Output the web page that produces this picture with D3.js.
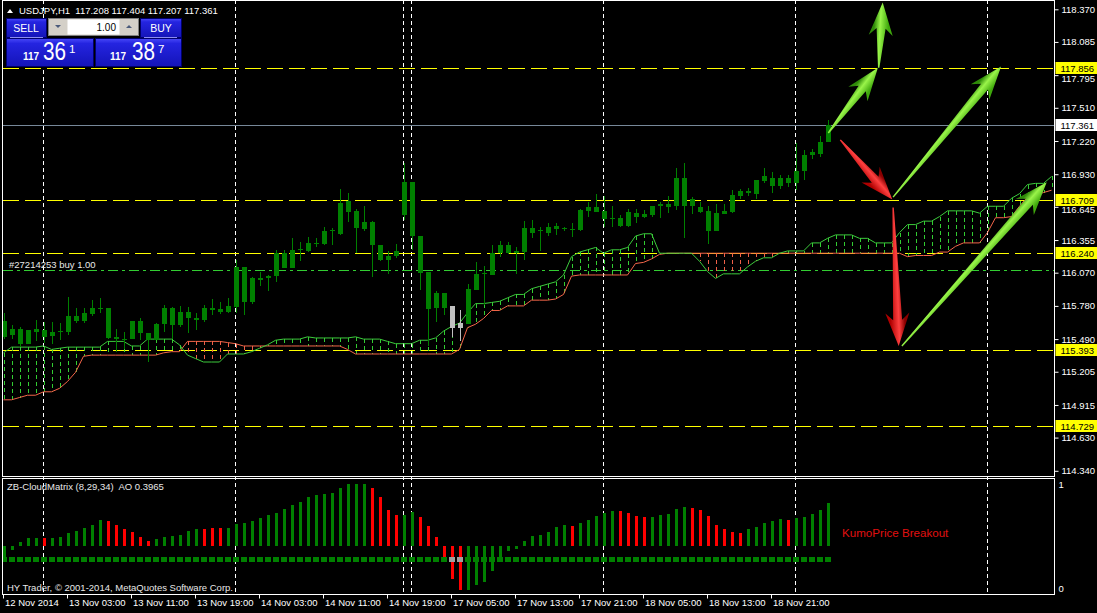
<!DOCTYPE html>
<html><head><meta charset="utf-8">
<script src="https://cdn.jsdelivr.net/npm/d3@7"></script>
<style>
html,body{margin:0;padding:0;background:#000;overflow:hidden;}
svg{display:block;}
text{font-family:"Liberation Sans",Arial,sans-serif;white-space:pre;}
</style></head><body>
<svg id="c" width="1097" height="613"></svg>
<script>
// ---------------- DATA ----------------
const symbolLabel = "USDJPY,H1";
const headerOHLC = [117.208, 117.404, 117.207, 117.361];
const open = [115.65,115.58,115.45,115.45,115.55,115.57,115.52,115.55,115.55,115.65,
 115.65,115.71,115.76,115.76,115.51,115.48,115.49,115.65,115.54,115.48,
 115.62,115.76,115.61,115.73,115.66,115.66,115.74,115.75,115.73,115.77,
 116.12,115.81,116.02,116.02,116.04,116.24,116.11,116.27,116.26,116.32,
 116.32,116.43,116.41,116.70,116.61,116.51,116.51,116.31,116.18,116.22,
 116.57,116.86,116.39,116.08,115.76,115.89,115.78,115.59,115.62,115.92,
 116.06,116.05,116.24,116.31,116.24,116.25,116.46,116.43,116.42,116.48,
 116.45,116.445,116.44,116.61,116.64,116.61,116.54,116.55,116.48,116.59,
 116.56,116.57,116.65,116.67,116.65,116.90,116.65,116.64,116.61,116.43,
 116.58,116.60,116.74,116.77,116.76,116.87,116.90,116.83,116.90,116.85,
 116.96,117.10,117.11,117.208];
const high = [115.72,115.61,115.60,115.57,115.66,115.64,115.64,115.63,115.86,115.76,
 115.76,115.83,115.85,115.76,115.58,115.55,115.65,115.67,115.54,115.63,
 115.79,115.77,115.78,115.77,115.72,115.79,115.84,115.81,115.85,116.18,
 116.12,116.03,116.08,116.05,116.27,116.27,116.37,116.34,116.38,116.37,
 116.47,116.46,116.80,116.77,116.63,116.65,116.52,116.31,116.26,116.32,
 117.03,116.86,116.39,116.08,115.91,115.89,115.78,115.74,115.97,116.16,
 116.13,116.31,116.35,116.34,116.29,116.52,116.53,116.47,116.50,116.50,
 116.47,116.50,116.63,116.69,116.76,116.74,116.65,116.57,116.63,116.63,
 116.62,116.65,116.69,116.74,116.98,117.03,116.73,116.69,116.65,116.67,
 116.67,116.79,116.80,116.81,116.88,116.98,116.95,116.92,116.92,117.20,
 117.14,117.15,117.26,117.404];
const low = [115.49,115.49,115.42,115.45,115.47,115.46,115.45,115.48,115.53,115.63,
 115.63,115.69,115.72,115.49,115.38,115.40,115.49,115.48,115.29,115.48,
 115.55,115.49,115.60,115.54,115.57,115.64,115.70,115.71,115.72,115.72,
 115.70,115.80,115.95,115.91,115.99,116.11,116.11,116.17,116.25,116.29,
 116.31,116.31,116.40,116.51,116.24,116.43,116.03,116.17,116.06,116.20,
 116.53,116.27,115.92,115.43,115.64,115.70,115.51,115.47,115.62,115.92,
 115.79,116.05,116.21,116.23,116.06,116.18,116.37,116.26,116.39,116.40,
 116.43,116.38,116.43,116.56,116.60,116.47,116.47,116.47,116.47,116.50,
 116.55,116.56,116.55,116.59,116.62,116.37,116.58,116.59,116.32,116.43,
 116.58,116.59,116.71,116.74,116.71,116.85,116.77,116.80,116.82,116.79,
 116.88,117.06,117.08,117.207];
const close = [115.51,115.53,115.58,115.57,115.58,115.51,115.55,115.56,115.69,115.69,
 115.72,115.76,115.75,115.50,115.49,115.49,115.65,115.54,115.48,115.62,
 115.76,115.61,115.73,115.67,115.67,115.76,115.76,115.73,115.78,116.12,
 115.81,116.02,116.01,116.04,116.24,116.11,116.27,116.28,116.33,116.33,
 116.43,116.44,116.68,116.60,116.46,116.45,116.31,116.18,116.22,116.26,
 116.86,116.39,116.07,115.75,115.89,115.76,115.59,115.63,115.93,116.06,
 116.07,116.24,116.31,116.24,116.26,116.46,116.42,116.44,116.47,116.45,
 116.46,116.455,116.62,116.64,116.60,116.54,116.55,116.48,116.60,116.56,
 116.58,116.65,116.67,116.64,116.90,116.65,116.71,116.60,116.43,116.59,
 116.61,116.75,116.78,116.78,116.88,116.91,116.83,116.90,116.85,116.96,
 117.10,117.12,117.21,117.361];
const grayBars = [56, 57];

// Ichimoku cloud (shifted forward), one value per bar index 0..131
const spanA = [115.37,115.42,115.42,115.42,115.42,115.43,115.40,115.41,115.42,115.42,
 115.42,115.42,115.42,115.47,115.47,115.47,115.43,115.43,115.49,115.49,
 115.49,115.49,115.44,115.35,115.32,115.29,115.29,115.29,115.36,115.36,
 115.36,115.38,115.41,115.44,115.48,115.49,115.49,115.49,115.51,115.50,
 115.50,115.50,115.50,115.50,115.51,115.49,115.49,115.49,115.47,115.45,
 115.45,115.45,115.48,115.48,115.50,115.56,115.60,115.63,115.72,115.80,
 115.80,115.81,115.82,115.85,115.88,115.88,115.93,115.95,115.97,115.99,
 116.05,116.21,116.25,116.27,116.29,116.24,116.27,116.27,116.29,116.39,
 116.41,116.41,116.24,116.24,116.24,116.24,116.24,116.17,116.08,116.02,
 116.06,116.06,116.06,116.12,116.17,116.20,116.20,116.24,116.26,116.26,
 116.26,116.33,116.33,116.37,116.40,116.40,116.40,116.37,116.37,116.33,
 116.33,116.33,116.42,116.49,116.49,116.52,116.52,116.56,116.61,116.61,
 116.61,116.61,116.59,116.65,116.65,116.65,116.72,116.76,116.84,116.85,
 116.85,116.91];
const spanB = [114.96,114.96,114.98,115.00,115.00,115.03,115.03,115.06,115.12,115.20,
 115.34,115.35,115.35,115.35,115.35,115.35,115.35,115.35,115.35,115.35,
 115.37,115.38,115.38,115.47,115.47,115.47,115.47,115.47,115.46,115.45,
 115.43,115.43,115.43,115.43,115.43,115.43,115.43,115.43,115.43,115.43,
 115.43,115.43,115.43,115.40,115.36,115.36,115.36,115.36,115.36,115.36,
 115.36,115.36,115.36,115.36,115.36,115.36,115.36,115.40,115.59,115.62,
 115.67,115.74,115.74,115.78,115.78,115.78,115.83,115.83,115.83,115.84,
 115.88,116.04,116.05,116.05,116.05,116.05,116.05,116.05,116.05,116.15,
 116.16,116.19,116.23,116.24,116.24,116.24,116.24,116.24,116.24,116.24,
 116.24,116.24,116.24,116.24,116.24,116.24,116.24,116.24,116.24,116.24,
 116.24,116.24,116.24,116.24,116.24,116.24,116.24,116.24,116.24,116.24,
 116.24,116.24,116.24,116.21,116.22,116.22,116.22,116.25,116.25,116.30,
 116.33,116.33,116.33,116.42,116.55,116.55,116.56,116.65,116.73,116.75,
 116.77,116.79];

// ZB-CloudMatrix AO histogram
const aoValues = [-0.17,-0.065,0.065,0.124,0.124,0.124,0.124,0.15,0.215,0.242,
 0.296,0.339,0.425,0.409,0.344,0.28,0.226,0.15,0.086,0.108,
 0.15,0.161,0.183,0.242,0.274,0.274,0.29,0.29,0.29,0.355,
 0.371,0.403,0.457,0.5,0.532,0.597,0.656,0.71,0.79,0.823,
 0.833,0.855,0.93,0.995,0.995,0.995,0.94,0.79,0.586,0.5,
 0.5,0.548,0.468,0.323,0.145,-0.226,-0.532,-0.71,-0.71,-0.629,
 -0.581,-0.398,-0.188,-0.08,-0.043,0.08,0.161,0.177,0.226,0.306,
 0.339,0.323,0.371,0.419,0.484,0.532,0.565,0.565,0.532,0.484,
 0.468,0.468,0.5,0.516,0.597,0.629,0.613,0.581,0.484,0.339,
 0.274,0.226,0.21,0.274,0.306,0.371,0.403,0.435,0.419,0.452,
 0.468,0.516,0.581,0.694];
const aoColor = ("gggggrgggg"+"gggrrrrrrg"+"gggggrrrgg"+"gggggggggg"+"ggggggrrrr"+
 "ggrrrrrrgg"+"gggggggggg"+"grgggggrrr"+"rgggggrrrr"+"rrrgggggrg"+"gggg").split("");

const timeTickIndex = [0,8,16,24,32,40,48,56,64,72,80,88,96];
const timeTickLabel = ["12 Nov 2014","13 Nov 03:00","13 Nov 11:00","13 Nov 19:00","14 Nov 03:00",
 "14 Nov 11:00","14 Nov 19:00","17 Nov 05:00","17 Nov 13:00","17 Nov 21:00","18 Nov 05:00",
 "18 Nov 13:00","18 Nov 21:00"];
const separatorIndex = [5,29,50,51,75,99,123];
const priceTicks = [118.370,118.085,117.795,117.510,117.220,116.930,116.645,116.355,
 116.070,115.780,115.490,115.205,114.915,114.630,114.340];
const levelLines = [117.856,116.709,116.240,115.393,114.729];
const bidPrice = 117.361;
const orderPrice = 116.094;
const orderLabel = "#27214253 buy 1.00";
const lotSize = "1.00";
const sellQuote = ["117","36","1"];
const buyQuote = ["117","38","7"];
const indicatorLabel = "ZB-CloudMatrix (8,29,34)  AO 0.3965";
const copyrightLabel = "HY Trader, \u00a9 2001-2014, MetaQuotes Software Corp.";
const signalLabel = "KumoPrice Breakout";
// drawn arrows: [barFrom, priceFrom, barTo, priceTo]
const greenArrows = [[103.1,117.29,109.3,117.86],[109.4,117.86,109.9,118.43],[111.2,116.73,124.7,117.87],[112.3,115.43,130.4,116.86]];
const redArrows = [[104.6,117.23,111.1,116.71],[111.2,116.64,111.9,115.43]];

// ---------------- SCALES ----------------
const svg = d3.select("#c");
const x = d3.scaleLinear().domain([0,1]).range([3.5,11.5]);
const y = d3.scaleLinear().domain([114.340,118.370]).range([470.8,9.3]);
const yi = d3.scaleLinear().domain([0,1]).range([546,484]);
const yLab = d3.scaleLinear().domain([0,1]).range([588.7,484.3]);
const L = 2.5, R = 1054.5, mainTop = 0.5, mainBot = 476, indTop = 478, indBot = 594.5;

svg.append("rect").attr("width",1097).attr("height",613).attr("fill","#000");
const defs = svg.append("defs");
defs.append("clipPath").attr("id","cm").append("rect").attr("x",L+0.5).attr("y",0).attr("width",R-L-1).attr("height",mainBot-0.5);
defs.append("clipPath").attr("id","ci").append("rect").attr("x",L+0.5).attr("y",indTop+0.5).attr("width",R-L-1).attr("height",indBot-indTop-1);

// separators
svg.append("g").selectAll("line").data(separatorIndex).join("line")
  .attr("x1",d=>x(d)).attr("x2",d=>x(d)).attr("y1",0).attr("y2",indBot)
  .attr("stroke","#fff").attr("stroke-width",1).attr("stroke-dasharray","4,3")
  .attr("shape-rendering","crispEdges");

const main = svg.append("g").attr("clip-path","url(#cm)");
// level lines
main.selectAll("line.lvl").data(levelLines).join("line").attr("class","lvl")
  .attr("x1",L).attr("x2",R).attr("y1",d=>Math.round(y(d))+0.5).attr("y2",d=>Math.round(y(d))+0.5)
  .attr("stroke","#ffff00").attr("stroke-dasharray","16,6").attr("shape-rendering","crispEdges");
main.append("line").attr("x1",L).attr("x2",R).attr("y1",Math.round(y(bidPrice))+0.5).attr("y2",Math.round(y(bidPrice))+0.5)
  .attr("stroke","#778899").attr("shape-rendering","crispEdges");
main.append("line").attr("x1",L).attr("x2",R).attr("y1",Math.round(y(orderPrice))+0.5).attr("y2",Math.round(y(orderPrice))+0.5)
  .attr("stroke","#32CD32").attr("stroke-dasharray","10,4,3,4").attr("shape-rendering","crispEdges");

// cloud hatches
const cloudIdx = d3.range(spanA.length);
main.append("g").selectAll("line").data(cloudIdx).join("line")
  .attr("x1",i=>Math.round(x(i))+0.5).attr("x2",i=>Math.round(x(i))+0.5)
  .attr("y1",i=>y(Math.max(spanA[i],spanB[i]))).attr("y2",i=>y(Math.min(spanA[i],spanB[i])))
  .attr("stroke",i=>spanA[i]>=spanB[i]?"#32CD32":"#F06048")
  .attr("stroke-dasharray","4,3").attr("shape-rendering","crispEdges");
const lineGen = arr => d3.line().x(i=>x(i)).y(i=>y(arr[i]))(cloudIdx);
main.append("path").attr("d",lineGen(spanB)).attr("fill","none").attr("stroke","#F4664A").attr("stroke-width",1);
main.append("path").attr("d",lineGen(spanA)).attr("fill","none").attr("stroke","#3CCB3C").attr("stroke-width",1);

// candles
const bars = d3.range(open.length);
const cg = main.append("g").attr("shape-rendering","crispEdges");
cg.selectAll("line").data(bars).join("line")
  .attr("x1",i=>Math.round(x(i))+0.5).attr("x2",i=>Math.round(x(i))+0.5)
  .attr("y1",i=>y(high[i])).attr("y2",i=>y(low[i]))
  .attr("stroke",i=>grayBars.includes(i)?"#C0C0C0":"#008000");
cg.selectAll("rect").data(bars).join("rect")
  .attr("x",i=>Math.round(x(i))-2).attr("width",5)
  .attr("y",i=>y(Math.max(open[i],close[i])))
  .attr("height",i=>Math.max(1,Math.abs(y(open[i])-y(close[i]))))
  .attr("fill",i=>grayBars.includes(i)?"#C0C0C0":"#008000");

// ---------------- INDICATOR ----------------
const ind = svg.append("g").attr("clip-path","url(#ci)").attr("shape-rendering","crispEdges");
ind.selectAll("rect.h").data(bars).join("rect").attr("class","h")
  .attr("x",i=>Math.round(x(i))-1).attr("width",3)
  .attr("y",i=>Math.min(yi(0),yi(aoValues[i])))
  .attr("height",i=>Math.abs(yi(aoValues[i])-yi(0)))
  .attr("fill",i=>aoColor[i]==="r"?"#FF0000":"#008000");
ind.selectAll("rect.d").data(bars).join("rect").attr("class","d")
  .attr("x",i=>Math.round(x(i))-3).attr("width",6).attr("y",557).attr("height",5)
  .attr("fill",i=>grayBars.includes(i)?"#A0A0A0":"#008000");

// ---------------- ARROWS ----------------
function arrow(a, color, id){
  const x0=x(a[0]), y0=y(a[1]), x1=x(a[2]), y1=y(a[3]);
  const dx=x1-x0, dy=y1-y0, len=Math.hypot(dx,dy), ux=dx/len, uy=dy/len, nx=-uy, ny=ux;
  const hl=26, hw=12, sw=4.5;
  const P=(t,s)=>[x0+ux*t+nx*s, y0+uy*t+ny*s];
  const pts=[P(0,-0.7),P(len-hl,-sw),P(len-hl-7,-hw),P(len,0),P(len-hl-7,hw),P(len-hl,sw),P(0,0.7)];
  const g1=P(len-hl,-hw), g2=P(len-hl,hw);
  const grad=defs.append("linearGradient").attr("id",id).attr("gradientUnits","userSpaceOnUse")
    .attr("x1",g1[0]).attr("y1",g1[1]).attr("x2",g2[0]).attr("y2",g2[1]);
  const c = color==="g" ? ["#2E8A08","#9AF54A","#3FA80C"] : ["#8A0000","#FF4040","#B00000"];
  grad.append("stop").attr("offset","0.2").attr("stop-color",c[0]);
  grad.append("stop").attr("offset","0.45").attr("stop-color",c[1]);
  grad.append("stop").attr("offset","0.8").attr("stop-color",c[2]);
  svg.append("path").attr("d","M"+pts.map(p=>p.join(",")).join("L")+"Z").attr("fill","url(#"+id+")");
}
greenArrows.forEach((a,k)=>arrow(a,"g","ga"+k));
redArrows.forEach((a,k)=>arrow(a,"r","ra"+k));

// ---------------- FRAMES & AXES ----------------
const frame = svg.append("g").attr("fill","none").attr("stroke","#fff").attr("shape-rendering","crispEdges");
frame.append("path").attr("d",`M${L},${mainTop}H${R}V${mainBot}H${L}Z`);
frame.append("path").attr("d",`M${L},${indTop}H${R}V${indBot}H${L}Z`);

const highlighted = levelLines.concat([bidPrice]);
const yAxis = svg.append("g").attr("transform",`translate(${R},0)`)
  .call(d3.axisRight(y).tickValues(priceTicks).tickSize(4).tickPadding(3).tickFormat(d3.format(".3f")));
yAxis.select(".domain").remove();
yAxis.selectAll("line").attr("stroke","#fff");
yAxis.selectAll("text").attr("fill","#fff").attr("font-size","9.5px").attr("font-family","Liberation Sans, Arial")
  .attr("dy",d=>{ const near = highlighted.some(p=>Math.abs(y(p)-y(d))<10 && y(p)<y(d)); return near ? "0.62em" : "0.32em"; });

// highlighted price labels
const hl = svg.append("g");
levelLines.forEach(p=>{
  const yy=Math.round(y(p));
  hl.append("rect").attr("x",R+1).attr("y",yy-6).attr("width",42).attr("height",12).attr("fill","#ffff00");
  hl.append("text").attr("x",R+6).attr("y",yy+3.5).attr("font-size","9.5px").attr("fill","#000").text(p.toFixed(3));
});
{
  const yy=Math.round(y(bidPrice));
  hl.append("rect").attr("x",R+1).attr("y",yy-6).attr("width",42).attr("height",12).attr("fill","#ffffff");
  hl.append("text").attr("x",R+6).attr("y",yy+3.5).attr("font-size","9.5px").attr("fill","#000").text(bidPrice.toFixed(3));
}

const iAxis = svg.append("g").attr("transform",`translate(${R},0)`)
  .call(d3.axisRight(yLab).tickValues([0,1]).tickSize(0).tickPadding(4).tickFormat(d3.format("d")));
iAxis.select(".domain").remove();
iAxis.selectAll("text").attr("fill","#fff").attr("font-size","9.5px");

const xAxis = svg.append("g").attr("transform",`translate(0,${indBot})`)
  .call(d3.axisBottom(x).tickValues(timeTickIndex).tickSize(4).tickFormat((d,k)=>timeTickLabel[k]));
xAxis.select(".domain").remove();
xAxis.selectAll("line").attr("stroke","#fff").attr("transform","translate(-0.5,0)");
xAxis.selectAll("text").attr("fill","#fff").attr("font-size","9.5px").attr("text-anchor","start")
  .attr("x",1).attr("dy","0.9em").attr("y",3);

// ---------------- TEXTS ----------------
const T = (tx,ty,s,size,col,extra)=>{ const t=svg.append("text").attr("x",tx).attr("y",ty).attr("font-size",size).attr("fill",col).text(s); if(extra) extra(t); return t; };
svg.append("path").attr("d","M7,13L10,9L13,13Z").attr("fill","#fff");
T(19,13.5,symbolLabel+"  "+headerOHLC.map(v=>v.toFixed(3)).join(" "),"9.5px","#fff");
T(9,268,orderLabel,"9.5px","#E8E8E8");
T(7,490,indicatorLabel,"9.5px","#E8E8E8");
T(7,591,copyrightLabel,"9.5px","#E8E8E8");
T(842,537,signalLabel,"11.6px","#E01010",t=>t.attr("font-family","Liberation Mono, Courier New, monospace"));

// ---------------- TRADE PANEL ----------------
const bg = defs.append("linearGradient").attr("id","blue").attr("x1",0).attr("y1",0).attr("x2",0).attr("y2",1);
bg.append("stop").attr("offset",0).attr("stop-color","#4848F8");
bg.append("stop").attr("offset",0.18).attr("stop-color","#2424E0");
bg.append("stop").attr("offset",1).attr("stop-color","#1414B8");
const pan = svg.append("g");
const box=(bx,by,bw,bh)=>pan.append("rect").attr("x",bx+0.5).attr("y",by+0.5).attr("width",bw).attr("height",bh)
  .attr("fill","url(#blue)").attr("stroke","#00006A");
box(6,18,40,19); box(140,18,41,19); box(6,38,87,28); box(95,38,86,28);
pan.append("line").attr("x1",10).attr("x2",43).attr("y1",37.5).attr("y2",37.5).attr("stroke","#8C8CF0");
pan.append("line").attr("x1",144).attr("x2",177).attr("y1",37.5).attr("y2",37.5).attr("stroke","#8C8CF0");
pan.append("rect").attr("x",48.5).attr("y",18.5).attr("width",90).attr("height",17).attr("fill","#D4D0C8").attr("stroke","#808080");
pan.append("rect").attr("x",67.5).attr("y",19.5).attr("width",52).attr("height",15).attr("fill","#fff");
pan.append("path").attr("d","M55,25H61L58,28Z").attr("fill","#4A5A7A");
pan.append("path").attr("d","M126,28H132L129,25Z").attr("fill","#4A5A7A");
T(116,31,lotSize,"10px","#000",t=>t.attr("text-anchor","end"));
T(26,31.5,"SELL","10.5px","#fff",t=>t.attr("text-anchor","middle"));
T(161,31.5,"BUY","10.5px","#fff",t=>t.attr("text-anchor","middle"));
const quote=(q,x0,x1,x2)=>{
  T(x0,60,q[0],"10px","#fff",t=>t.attr("font-weight","bold"));
  T(x1,60,q[1],"25px","#fff",t=>t.attr("textLength",23).attr("lengthAdjust","spacingAndGlyphs"));
  T(x2,53,q[2],"11.5px","#fff");
};
quote(sellQuote,23,43,69);
quote(buyQuote,110,132,158);
</script>
</body></html>
